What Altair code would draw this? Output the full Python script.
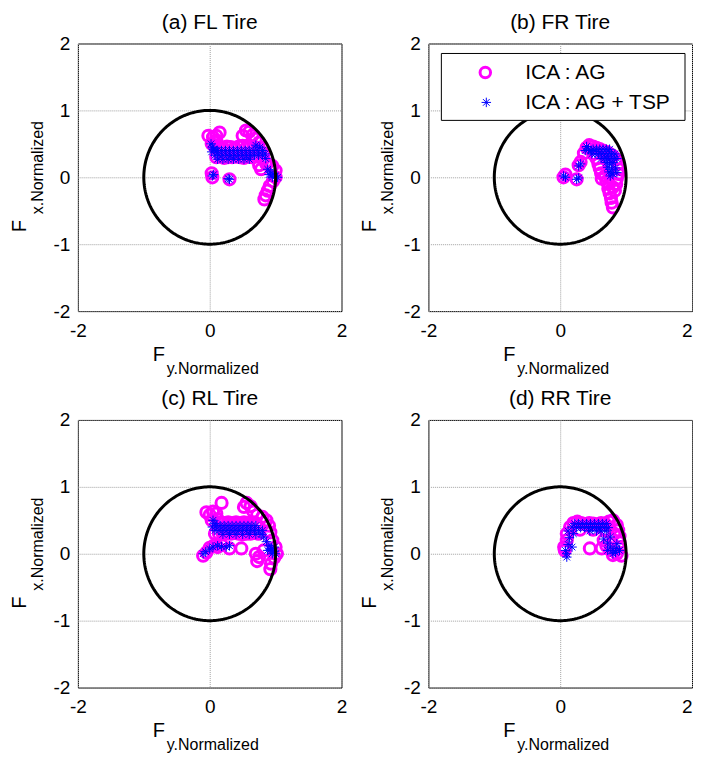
import altair as alt
import numpy as np
import pandas as pd

FONT = "Liberation Sans"
MAGENTA = "#ff00ff"
BLUE = "#0000ff"

TITLES = ["(a) FL Tire", "(b) FR Tire", "(c) RL Tire", "(d) RR Tire"]
LEGEND_LABELS = ["ICA : AG", "ICA : AG + TSP"]
X_TICKS = [-2, 0, 2]
Y_TICKS = [-2, -1, 0, 1, 2]

# (Fy normalized, Fx normalized) pairs
FL_AG = [(0.04, 0.00), (0.03, 0.06), (0.30, -0.03),
         (-0.02, 0.62), (0.05, 0.60), (0.10, 0.62), (0.15, 0.67), (0.10, 0.55), (0.03, 0.50),
         (0.08, 0.45), (0.14, 0.46), (0.20, 0.44), (0.26, 0.46), (0.32, 0.45), (0.38, 0.44),
         (0.44, 0.46), (0.50, 0.47), (0.56, 0.45), (0.62, 0.46), (0.68, 0.45), (0.74, 0.44),
         (0.10, 0.30), (0.16, 0.31), (0.22, 0.29), (0.28, 0.30), (0.34, 0.30), (0.40, 0.31),
         (0.46, 0.30), (0.52, 0.29), (0.58, 0.31), (0.64, 0.30), (0.70, 0.31),
         (0.50, 0.62), (0.55, 0.70), (0.60, 0.68), (0.65, 0.63), (0.70, 0.58), (0.75, 0.52),
         (0.80, 0.44), (0.82, 0.36), (0.80, 0.28), (0.85, 0.22),
         (0.75, 0.18), (0.78, 0.12), (0.86, 0.20), (0.95, 0.17), (1.00, 0.10), (1.00, 0.00),
         (0.96, -0.06), (0.91, -0.13), (0.88, -0.20), (0.85, -0.27), (0.83, -0.33)]
FL_TSP = [(0.04, 0.02), (0.06, 0.04), (0.30, -0.03), (0.28, -0.02),
          (0.02, 0.50), (0.04, 0.45), (0.06, 0.42), (0.03, 0.38), (0.10, 0.40),
          (0.12, 0.40), (0.18, 0.40), (0.24, 0.40), (0.30, 0.40), (0.36, 0.40), (0.42, 0.40),
          (0.48, 0.40), (0.54, 0.40), (0.60, 0.40), (0.66, 0.40), (0.72, 0.40),
          (0.08, 0.33), (0.14, 0.33), (0.20, 0.33), (0.26, 0.33), (0.32, 0.33), (0.38, 0.33),
          (0.44, 0.33), (0.50, 0.33), (0.56, 0.33), (0.62, 0.33), (0.68, 0.33), (0.74, 0.33),
          (0.80, 0.33),
          (0.12, 0.27), (0.20, 0.27), (0.28, 0.27), (0.36, 0.27), (0.44, 0.27), (0.52, 0.27),
          (0.60, 0.27),
          (0.70, 0.48), (0.76, 0.45), (0.80, 0.40), (0.84, 0.35), (0.85, 0.28),
          (0.88, 0.12), (0.92, 0.08), (0.96, 0.05), (1.00, 0.02), (1.03, 0.00), (0.95, 0.00),
          (0.90, 0.04)]

FR_AG = [(0.05, 0.00), (0.08, 0.04), (0.25, -0.03), (0.28, 0.18), (0.31, 0.23), (0.36, 0.36),
         (0.40, 0.44), (0.44, 0.48), (0.50, 0.46), (0.55, 0.44), (0.60, 0.42), (0.65, 0.40),
         (0.70, 0.38), (0.75, 0.35), (0.80, 0.32), (0.85, 0.27), (0.88, 0.20), (0.89, 0.12),
         (0.88, 0.05), (0.86, -0.02),
         (0.50, 0.35), (0.55, 0.28), (0.58, 0.20), (0.60, 0.13), (0.62, 0.06), (0.63, -0.02),
         (0.68, 0.02),
         (0.70, -0.06), (0.74, -0.10), (0.73, -0.17), (0.75, -0.24), (0.77, -0.31),
         (0.78, -0.38), (0.80, -0.45), (0.83, -0.20), (0.85, -0.10), (0.80, -0.15)]
FR_TSP = [(0.05, 0.02), (0.08, 0.00), (0.25, -0.03), (0.28, -0.01), (0.28, 0.17),
          (0.31, 0.20), (0.38, 0.40), (0.40, 0.46), (0.43, 0.42), (0.47, 0.40),
          (0.50, 0.42), (0.55, 0.42), (0.60, 0.42), (0.65, 0.42), (0.70, 0.42), (0.75, 0.42),
          (0.48, 0.35), (0.53, 0.35), (0.58, 0.35), (0.63, 0.35), (0.68, 0.35), (0.73, 0.35),
          (0.78, 0.35), (0.83, 0.35),
          (0.62, 0.28), (0.67, 0.28), (0.72, 0.28), (0.77, 0.28), (0.82, 0.28), (0.86, 0.28),
          (0.70, 0.22), (0.75, 0.20), (0.80, 0.22), (0.72, 0.15), (0.78, 0.12), (0.84, 0.14),
          (0.74, 0.08), (0.80, 0.05), (0.86, 0.07), (0.76, 0.02)]

RL_AG = [(-0.10, -0.03), (-0.05, 0.02), (0.00, 0.09), (0.06, 0.12), (0.18, 0.13), (0.30, 0.08),
         (0.12, 0.10),
         (-0.05, 0.62), (0.00, 0.58), (0.05, 0.63), (0.10, 0.60), (0.18, 0.76), (0.12, 0.52),
         (0.03, 0.50),
         (0.16, 0.47), (0.22, 0.46), (0.28, 0.47), (0.34, 0.46), (0.40, 0.47), (0.46, 0.46),
         (0.52, 0.47), (0.58, 0.46), (0.64, 0.47), (0.70, 0.46),
         (0.08, 0.30), (0.14, 0.30), (0.20, 0.29), (0.26, 0.30), (0.32, 0.30), (0.38, 0.31),
         (0.44, 0.30), (0.50, 0.29), (0.56, 0.30), (0.62, 0.30), (0.68, 0.31), (0.74, 0.30),
         (0.52, 0.70), (0.56, 0.76), (0.62, 0.71), (0.66, 0.63), (0.72, 0.58), (0.80, 0.55),
         (0.86, 0.50), (0.90, 0.42), (0.92, 0.32),
         (0.95, 0.20), (1.00, 0.10), (1.02, 0.00), (0.98, -0.06), (0.93, -0.15), (0.92, -0.23),
         (0.75, -0.05), (0.72, -0.11), (0.70, 0.00), (0.82, 0.05),
         (0.48, 0.08)]
RL_TSP = [(-0.10, 0.00), (-0.06, 0.03), (0.00, 0.07), (0.05, 0.10), (0.12, 0.12), (0.18, 0.11),
          (0.25, 0.10), (0.30, 0.12),
          (0.05, 0.50), (0.08, 0.45), (0.04, 0.40),
          (0.10, 0.42), (0.16, 0.42), (0.22, 0.42), (0.28, 0.42), (0.34, 0.42), (0.40, 0.42),
          (0.46, 0.42), (0.52, 0.42), (0.58, 0.42), (0.64, 0.42), (0.70, 0.42),
          (0.08, 0.35), (0.14, 0.35), (0.20, 0.35), (0.26, 0.35), (0.32, 0.35), (0.38, 0.35),
          (0.44, 0.35), (0.50, 0.35), (0.56, 0.35), (0.62, 0.35), (0.68, 0.35), (0.74, 0.35),
          (0.80, 0.35),
          (0.20, 0.29), (0.30, 0.29), (0.40, 0.29), (0.50, 0.29), (0.60, 0.29), (0.70, 0.29),
          (0.78, 0.29),
          (0.82, 0.25), (0.86, 0.18), (0.90, 0.12), (0.94, 0.08), (0.98, 0.04), (1.00, 0.00),
          (0.95, 0.00), (0.92, 0.06), (0.98, 0.10), (0.88, 0.05)]

RR_AG = [(0.07, 0.05), (0.06, 0.10), (0.10, 0.20), (0.10, 0.30), (0.15, 0.40), (0.20, 0.46),
         (0.26, 0.48), (0.32, 0.46), (0.38, 0.44), (0.44, 0.46), (0.50, 0.45), (0.56, 0.44),
         (0.62, 0.46), (0.68, 0.45), (0.74, 0.48), (0.80, 0.50), (0.86, 0.43), (0.88, 0.35),
         (0.90, 0.26), (0.90, 0.17), (0.90, 0.08), (0.86, 0.00), (0.80, -0.02), (0.93, -0.03),
         (0.76, 0.06), (0.70, 0.12), (0.66, 0.20), (0.63, 0.08), (0.45, 0.08),
         (0.30, 0.36), (0.50, 0.36), (0.70, 0.34), (0.82, 0.30)]
RR_TSP = [(0.08, 0.05), (0.10, 0.00), (0.10, -0.05), (0.12, 0.14), (0.14, 0.24), (0.12, 0.34),
          (0.18, 0.40), (0.20, 0.30), (0.18, 0.10),
          (0.22, 0.45), (0.28, 0.45), (0.34, 0.45), (0.40, 0.45), (0.46, 0.45), (0.52, 0.45),
          (0.58, 0.45), (0.64, 0.45), (0.70, 0.45),
          (0.25, 0.39), (0.31, 0.39), (0.37, 0.39), (0.43, 0.39), (0.49, 0.39), (0.55, 0.39),
          (0.61, 0.39), (0.67, 0.39), (0.73, 0.39),
          (0.45, 0.34), (0.55, 0.34), (0.62, 0.34), (0.70, 0.34),
          (0.66, 0.22), (0.72, 0.16), (0.76, 0.10), (0.80, 0.05), (0.86, 0.08), (0.90, 0.05),
          (0.80, 0.00), (0.72, 0.05), (0.76, 0.25), (0.86, 0.15), (0.84, 0.02)]

ASTERISK = "M-1,0L1,0M0,-1L0,1M-0.7,-0.7L0.7,0.7M-0.7,0.7L0.7,-0.7"

# unit friction circle (reference geometry)
theta = np.linspace(0, 2 * np.pi, 241)
circle_df = pd.DataFrame({"Fy": np.cos(theta), "Fx": np.sin(theta), "i": np.arange(len(theta))})
one = pd.DataFrame({"d": [0]})

W, H = 264, 268


def xenc(right_col):
    if right_col:
        align = {"condition": {"test": "datum.value == 2", "value": "right"}, "value": "center"}
    else:
        align = "center"
    return alt.X("Fy:Q", scale=alt.Scale(domain=[-2, 2], nice=False, zero=False),
                 axis=alt.Axis(values=X_TICKS, title=None, labelExpr="toString(datum.value)",
                               labelFlush=False, grid=True, labelAlign=align))


def yenc():
    return alt.Y("Fx:Q", scale=alt.Scale(domain=[-2, 2], nice=False, zero=False),
                 axis=alt.Axis(values=Y_TICKS, title=None, labelExpr="toString(datum.value)",
                               labelFlush=False, grid=True))


def txt(s, x, y, size, angle=0, align="left", baseline="alphabetic"):
    kw = dict(text=s, font=FONT, fontSize=size, align=align, baseline=baseline, color="black")
    if angle:
        kw["angle"] = angle
    return alt.Chart(one).mark_text(**kw).encode(x=alt.value(x), y=alt.value(y))


def panel(ag, tsp, title, right_col=False, legend=False):
    ag_df = pd.DataFrame(ag, columns=["Fy", "Fx"])
    tsp_df = pd.DataFrame(tsp, columns=["Fy", "Fx"])
    X = xenc(right_col)
    Y = yenc()
    layers = [
        alt.Chart(ag_df).mark_point(shape="circle", filled=False, color=MAGENTA, size=125,
                                    strokeWidth=3, opacity=1).encode(x=X, y=Y),
        alt.Chart(tsp_df).mark_point(shape=ASTERISK, filled=False, color=BLUE, size=90,
                                     strokeWidth=1, opacity=1).encode(x=X, y=Y),
        alt.Chart(circle_df).mark_line(color="black", strokeWidth=3).encode(
            x=X, y=Y, order="i:Q"),
        # y-axis title F_{x.Normalized}
        txt("F", -52, 189, 20, angle=270),
        txt("x.Normalized", -35, 171, 16, angle=270),
        # x-axis title F_{y.Normalized}
        txt("F", 75, H + 50, 20),
        txt("y.Normalized", 89, H + 63, 16),
    ]
    if legend:
        layers += [
            alt.Chart(one).mark_rect(fill="white", stroke="black", strokeWidth=1).encode(
                x=alt.value(13), x2=alt.value(257), y=alt.value(10), y2=alt.value(77)),
            alt.Chart(one).mark_point(shape="circle", filled=False, color=MAGENTA, size=110,
                                      strokeWidth=3, opacity=1).encode(
                x=alt.value(57), y=alt.value(29)),
            alt.Chart(one).mark_point(shape=ASTERISK, filled=False, color=BLUE, size=90,
                                      strokeWidth=1, opacity=1).encode(
                x=alt.value(58), y=alt.value(59)),
            txt(LEGEND_LABELS[0], 97, 30, 21, baseline="middle"),
            txt(LEGEND_LABELS[1], 97, 60, 21, baseline="middle"),
        ]
    return alt.layer(*layers).properties(
        width=W, height=H,
        title=alt.TitleParams(title, font=FONT, fontSize=21, fontWeight="normal",
                              color="black", anchor="middle", offset=2))


p1 = panel(FL_AG, FL_TSP, TITLES[0])
p2 = panel(FR_AG, FR_TSP, TITLES[1], right_col=True, legend=True)
p3 = panel(RL_AG, RL_TSP, TITLES[2])
p4 = panel(RR_AG, RR_TSP, TITLES[3], right_col=True)

chart = alt.concat(p1, p2, p3, p4, columns=2, spacing={"row": 109, "column": 87},
                   bounds="flush").properties(
    padding={"left": 1, "top": 2, "right": 0, "bottom": 0}
).configure_view(
    stroke="black", strokeWidth=1
).configure_axis(
    labelFont=FONT, labelFontSize=19, labelColor="black", ticks=False, domain=False,
    gridColor="#a0a0a0", gridDash=[1, 1], gridWidth=1, gridOpacity=1
).configure_axisX(labelPadding=10).configure_axisY(labelPadding=8)

chart.save("out.html", embed_options={"renderer": "svg", "actions": False})
